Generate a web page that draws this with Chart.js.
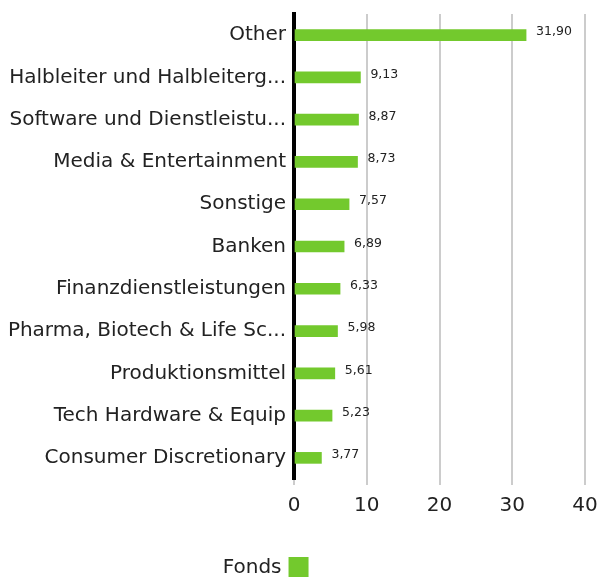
<!DOCTYPE html>
<html>
<head>
<meta charset="utf-8">
<script src="https://cdn.jsdelivr.net/npm/chart.js@4/dist/chart.umd.min.js"></script>
<style>
  html, body { margin: 0; padding: 0; background: #fff; }
  #wrap { width: 599px; height: 577px; position: relative; }
</style>
</head>
<body>
<div id="wrap"><canvas id="ch_sectors"></canvas></div>
<script>
/* ── data ─────────────────────────────────────────────── */
const sectors = [
  'Other',
  'Halbleiter und Halbleiterg...',
  'Software und Dienstleistu...',
  'Media & Entertainment',
  'Sonstige',
  'Banken',
  'Finanzdienstleistungen',
  'Pharma, Biotech & Life Sc...',
  'Produktionsmittel',
  'Tech Hardware & Equip',
  'Consumer Discretionary'
];
const fondsWeights = [31.90, 9.13, 8.87, 8.73, 7.57, 6.89, 6.33, 5.98, 5.61, 5.23, 3.77];
const xTicks = [0, 10, 20, 30, 40];
const seriesName = 'Fonds';

const GREEN = '#73c92d';
const FONT = "'DejaVu Sans', sans-serif";

// value labels at the end of each bar, German decimal comma
const valueLabels = {
  id: 'valueLabels',
  afterDatasetsDraw(chart) {
    const { ctx } = chart;
    const meta = chart.getDatasetMeta(0);
    ctx.save();
    ctx.font = `12.5px ${FONT}`;
    ctx.fillStyle = '#222';
    ctx.textAlign = 'left';
    ctx.textBaseline = 'middle';
    meta.data.forEach((bar, i) => {
      ctx.fillText(fondsWeights[i].toFixed(2).replace('.', ','), bar.x + 10, bar.y - 3);
    });
    ctx.restore();
  }
};

// legend: text first, swatch after it, under the chart
const textLegend = {
  id: 'textLegend',
  afterDraw(chart) {
    const { ctx, width, height } = chart;
    ctx.save();
    ctx.font = `20px ${FONT}`;
    ctx.fillStyle = '#222';
    ctx.textBaseline = 'middle';
    ctx.textAlign = 'right';
    const cx = width * 0.47;
    const cy = height - 10;
    ctx.fillText(seriesName, cx, cy + 1);
    ctx.fillStyle = GREEN;
    ctx.fillRect(cx + 7, cy - 10, 20, 20);
    ctx.restore();
  }
};

new Chart(document.getElementById('ch_sectors').getContext('2d'), {
  type: 'bar',
  data: {
    labels: sectors,
    datasets: [{
      label: seriesName,
      data: fondsWeights,
      backgroundColor: GREEN,
      borderWidth: 0,
      barThickness: 11
    }]
  },
  options: {
    indexAxis: 'y',
    responsive: true,
    maintainAspectRatio: false,
    animation: false,
    layout: { padding: { top: 14, right: 0, left: 4, bottom: 50 } },
    plugins: {
      legend: { display: false },
      tooltip: { enabled: false }
    },
    scales: {
      x: {
        min: 0, max: 40,
        afterBuildTicks: axis => { axis.ticks = xTicks.map(v => ({ value: v })); },
        afterFit: axis => { axis.paddingRight = 14; },
        grid: { color: '#cccccc', lineWidth: 2, drawTicks: true, tickLength: 6, tickColor: '#cccccc' },
        border: { display: false },
        ticks: { font: { size: 20, family: FONT }, color: '#222', padding: 9 }
      },
      y: {
        afterFit: axis => { axis.width = 290; },
        grid: { display: false },
        border: { display: true, color: '#000', width: 4 },
        ticks: { font: { size: 20, family: FONT }, color: '#222', padding: 0 }
      }
    }
  },
  plugins: [valueLabels, textLegend]
});
</script>
</body>
</html>
